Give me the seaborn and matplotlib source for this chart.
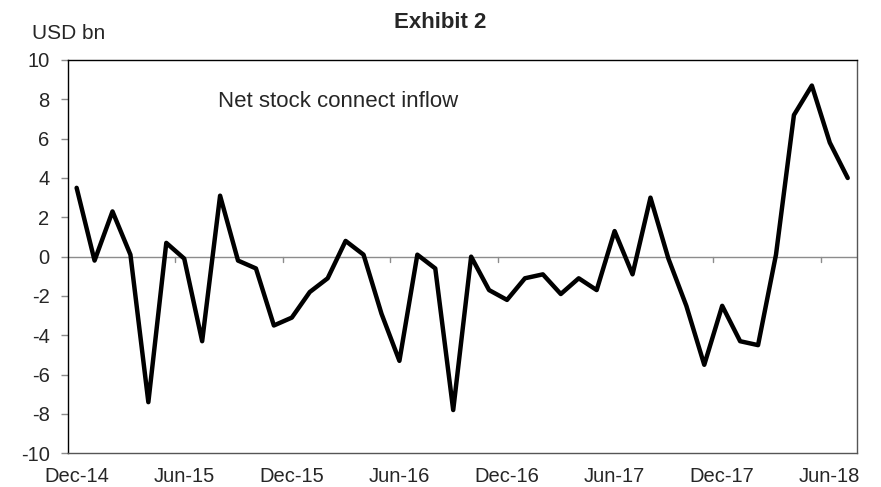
import numpy as np
import pandas as pd
import matplotlib
matplotlib.use("Agg")
import matplotlib.pyplot as plt
import seaborn as sns

# monthly net stock connect inflow, USD bn (Dec-14 .. Jul-18)
months = pd.date_range("2014-12-01", "2018-07-01", freq="MS")
inflow = [3.5, -0.2, 2.3, 0.1, -7.4, 0.7, -0.1, -4.3, 3.1, -0.2,
          -0.6, -3.5, -3.1, -1.8, -1.1, 0.8, 0.1, -2.9, -5.3, 0.1,
          -0.6, -7.8, 0.0, -1.7, -2.2, -1.1, -0.9, -1.9, -1.1, -1.7,
          1.3, -0.9, 3.0, -0.1, -2.5, -5.5, -2.5, -4.3, -4.5, 0.1,
          7.2, 8.7, 5.8, 4.0]
yticks = np.arange(-10, 11, 2)

df = pd.DataFrame({"pos": np.arange(len(months)), "inflow": inflow,
                   "label": months.strftime("%b-%y")})

sns.set_style("white")
plt.rcParams["font.family"] = ["Liberation Sans", "DejaVu Sans"]

fig = plt.figure(figsize=(8.81, 4.87), dpi=100)
ax = fig.add_axes([0.0768, 0.0692, 0.8956, 0.8076])

sns.lineplot(data=df, x="pos", y="inflow", ax=ax, color="black", linewidth=3.2)

ax.axhline(0, color="#8c8c8c", linewidth=1, zorder=0)
# category boundary ticks on the zero line
for b in np.arange(6, len(months), 6) - 0.5:
    ax.plot([b, b], [0, -0.25], color="#8c8c8c", linewidth=1, zorder=0)

ax.set_xlim(-0.5, len(months) - 0.5)
ax.set_ylim(-10, 10)
ax.set_yticks(yticks)
ax.set_yticklabels([str(v) for v in yticks])
ax.set_xticks(df["pos"][::6])
ax.set_xticklabels(df["label"][::6])
ax.tick_params(axis="x", length=0, pad=10, labelsize=14.5)
ax.tick_params(axis="y", length=5, width=1, color="#8c8c8c", left=True,
               direction="out", pad=8, labelsize=14.5)
ax.set_xlabel("")
ax.set_ylabel("")

for side in ["top", "left"]:
    ax.spines[side].set_color("black")
    ax.spines[side].set_linewidth(1)
for side in ["bottom", "right"]:
    ax.spines[side].set_color("#555555")
    ax.spines[side].set_linewidth(1)

ax.text(0.19, 0.895, "Net stock connect inflow", transform=ax.transAxes,
        fontsize=16, va="center", ha="left")
fig.text(0.5, 0.953, "Exhibit 2", fontsize=16, fontweight="bold",
         ha="center", va="center")
fig.text(0.036, 0.932, "USD bn", fontsize=15, ha="left", va="center")

fig.savefig("out.png", dpi=100)
